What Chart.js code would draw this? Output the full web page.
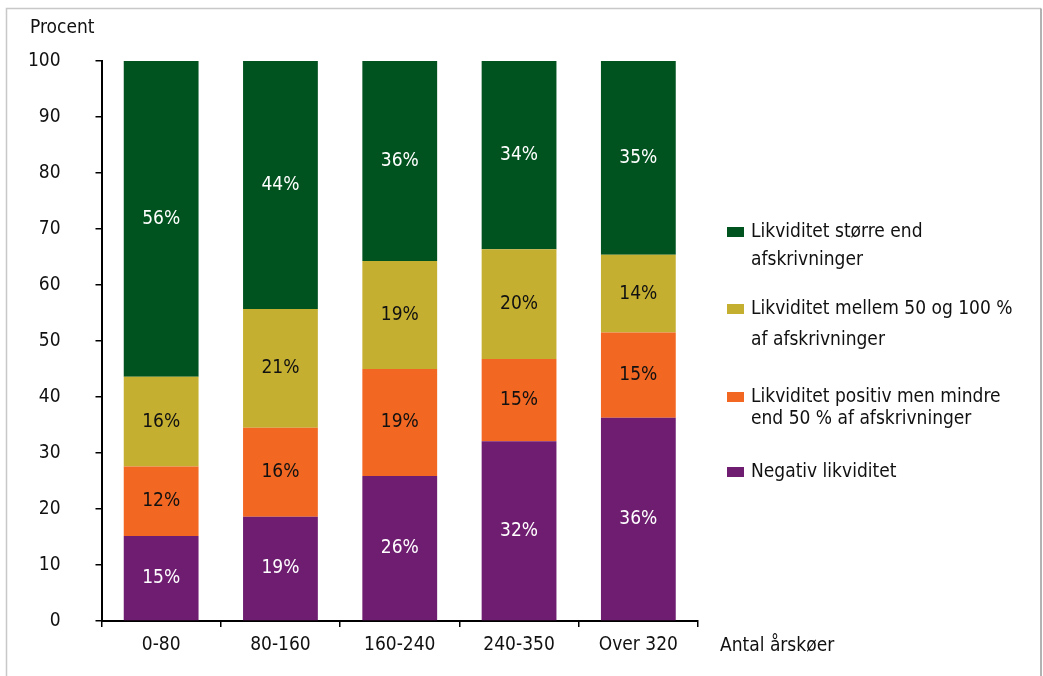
<!DOCTYPE html>
<html>
<head>
<meta charset="utf-8">
<script src="https://cdn.jsdelivr.net/npm/chart.js@4.4.1/dist/chart.umd.min.js"></script>
<style>
  html, body { margin: 0; padding: 0; background: #fff; }
  #wrap { width: 1043px; height: 676px; }
</style>
</head>
<body>
<div id="wrap"><canvas id="chart" width="1043" height="676"></canvas></div>
<script>
const categories = ["0-80", "80-160", "160-240", "240-350", "Over 320"];
const negativ = [15.2, 18.6, 25.9, 32.1, 36.3];
const positivMindre = [12.4, 15.9, 19.1, 14.7, 15.2];
const mellem = [16.0, 21.2, 19.3, 19.6, 13.9];
const stoerre = [56.4, 44.3, 35.7, 33.6, 34.6];
const yTicks = [0, 10, 20, 30, 40, 50, 60, 70, 80, 90, 100];

const legendLines = [
  ["Likviditet større end", "afskrivninger"],
  ["Likviditet mellem 50 og 100 %", "af afskrivninger"],
  ["Likviditet positiv men mindre", "end 50 % af afskrivninger"],
  ["Negativ likviditet"]
];

const FONT = '"DejaVu Sans Condensed", "DejaVu Sans", sans-serif';
const SIZE = 19;
const colors = { green: "#00531f", yellow: "#c5af31", orange: "#f26722", purple: "#6f1d71" };

// draws the outer frame, axis titles, segment labels and the legend
const extras = {
  id: "extras",
  beforeDraw(chart) {
    const ctx = chart.ctx;
    ctx.save();
    ctx.lineWidth = 1.5;
    ctx.strokeStyle = "#c8c8c8";
    ctx.beginPath();
    ctx.moveTo(6.5, 676); ctx.lineTo(6.5, 8.5); ctx.lineTo(1041, 8.5);
    ctx.stroke();
    ctx.strokeStyle = "#999";
    ctx.beginPath();
    ctx.moveTo(1041, 8.5); ctx.lineTo(1041, 676);
    ctx.stroke();
    ctx.restore();
  },
  afterDatasetsDraw(chart) {
    const ctx = chart.ctx;
    ctx.save();
    ctx.font = SIZE + "px " + FONT;
    ctx.textAlign = "center";
    ctx.textBaseline = "middle";
    chart.data.datasets.forEach((ds, i) => {
      const meta = chart.getDatasetMeta(i);
      meta.data.forEach((bar, j) => {
        ctx.fillStyle = ds.labelColor;
        ctx.fillText(Math.round(ds.data[j]) + "%", bar.x, (bar.y + bar.base) / 2);
      });
    });

    ctx.fillStyle = "#111";
    ctx.textAlign = "left";
    ctx.fillText("Procent", 30, 28);
    ctx.fillText("Antal årskøer", 720, 646);

    // legend, top item = last dataset
    const starts = [232, 309, 397, 472];
    const lineGap = [28, 31, 22, 0];
    const order = [3, 2, 1, 0];
    order.forEach((di, k) => {
      const ds = chart.data.datasets[di];
      ctx.fillStyle = ds.backgroundColor;
      ctx.fillRect(727, starts[k] - 5, 17, 10);
      ctx.fillStyle = "#111";
      legendLines[k].forEach((t, n) => {
        ctx.fillText(t, 751, starts[k] + n * lineGap[k]);
      });
    });
    ctx.restore();
  }
};

new Chart(document.getElementById("chart"), {
  type: "bar",
  data: {
    labels: categories,
    datasets: [
      { label: "Negativ likviditet", data: negativ, backgroundColor: colors.purple, labelColor: "#fff" },
      { label: "Likviditet positiv men mindre end 50 % af afskrivninger", data: positivMindre, backgroundColor: colors.orange, labelColor: "#111" },
      { label: "Likviditet mellem 50 og 100 % af afskrivninger", data: mellem, backgroundColor: colors.yellow, labelColor: "#111" },
      { label: "Likviditet større end afskrivninger", data: stoerre, backgroundColor: colors.green, labelColor: "#fff" }
    ].map(d => Object.assign(d, { barPercentage: 0.627, categoryPercentage: 1, borderWidth: 0 }))
  },
  options: {
    responsive: false,
    animation: false,
    layout: { padding: { left: 0, top: 61, right: 345, bottom: 0 } },
    plugins: { legend: { display: false }, tooltip: { enabled: false } },
    scales: {
      x: {
        stacked: true,
        grid: { display: true, drawOnChartArea: false, drawTicks: true, tickLength: 6, color: "#000", lineWidth: 1.5, offset: true },
        border: { color: "#000", width: 2 },
        ticks: { color: "#111", font: { family: FONT, size: SIZE }, padding: 7 },
        afterFit(scale) { scale.height = 55; }
      },
      y: {
        stacked: true,
        min: 0,
        max: 100,
        afterBuildTicks(scale) { scale.ticks = yTicks.map(v => ({ value: v })); },
        grid: { display: true, drawOnChartArea: false, drawTicks: true, tickLength: 6, color: "#000", lineWidth: 1.5 },
        border: { color: "#000", width: 2 },
        ticks: { color: "#111", font: { family: FONT, size: SIZE }, padding: 35 },
        afterFit(scale) { scale.width = 101.5; }
      }
    }
  },
  plugins: [extras]
});
</script>
</body>
</html>
